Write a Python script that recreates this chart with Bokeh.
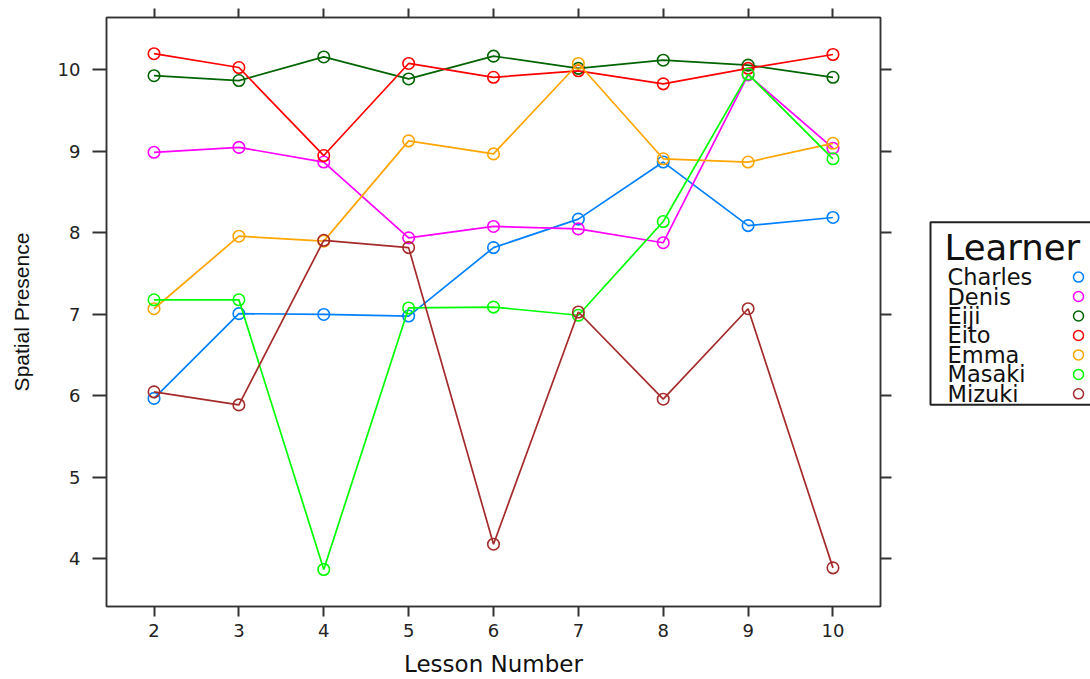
from bokeh.plotting import figure
from bokeh.models import Range1d, FixedTicker, LinearAxis, ColumnDataSource, CustomJSTickFormatter
from bokeh.layouts import row
from bokeh.embed import file_html
from bokeh.resources import INLINE
from bokeh.core.properties import value

# ---- data ----
lessons = [2, 3, 4, 5, 6, 7, 8, 9, 10]
learners = ["Charles", "Denis", "Eiji", "Eito", "Emma", "Masaki", "Mizuki"]
colors = ["#0080ff", "#ff00ff", "#006400", "#ff0000", "#ffa500", "#00ff00", "#a52a2a"]
charles = [5.97, 7.01, 7.00, 6.98, 7.82, 8.17, 8.87, 8.09, 8.19]
denis = [8.99, 9.05, 8.87, 7.94, 8.08, 8.05, 7.88, 9.94, 9.04]
eiji = [9.93, 9.87, 10.16, 9.89, 10.17, 10.02, 10.12, 10.06, 9.91]
eito = [10.20, 10.03, 8.95, 10.08, 9.91, 9.99, 9.83, 10.02, 10.19]
emma = [7.07, 7.96, 7.90, 9.13, 8.97, 10.08, 8.91, 8.87, 9.10]
masaki = [7.18, 7.18, 3.87, 7.08, 7.09, 6.99, 8.14, 9.95, 8.91]
mizuki = [6.05, 5.89, 7.91, 7.82, 4.18, 7.03, 5.96, 7.07, 3.89]
series = [charles, denis, eiji, eito, emma, masaki, mizuki]
x_ticks = [2, 3, 4, 5, 6, 7, 8, 9, 10]
y_ticks = [4, 5, 6, 7, 8, 9, 10]

AX = "#333333"
TICKFONT = "DejaVu Sans"

p = figure(width=896, height=679, output_backend="svg", toolbar_location=None,
           x_range=Range1d(1.44, 10.56), y_range=Range1d(3.416, 10.644),
           min_border_left=106, min_border_top=17, min_border_right=16, min_border_bottom=72,
           x_axis_location=None, y_axis_location=None)
p.grid.visible = False
p.outline_line_color = AX
p.outline_line_width = 1.5
p.background_fill_color = "white"
p.border_fill_color = "white"

def make_axis(ticks, tick_len, show_labels, label=None):
    ax = LinearAxis(ticker=FixedTicker(ticks=ticks))
    ax.major_tick_out = tick_len
    ax.major_tick_in = 0
    ax.minor_tick_out = 0
    ax.minor_tick_in = 0
    ax.major_tick_line_color = AX
    ax.major_tick_line_width = 2
    ax.axis_line_color = AX
    ax.axis_line_width = 1.5
    if show_labels:
        ax.major_label_text_font = TICKFONT
        ax.major_label_text_font_size = "18px"
        ax.major_label_text_color = "#222222"
    else:
        ax.formatter = CustomJSTickFormatter(code="return '';")
        ax.major_label_standoff = 0
    if label:
        ax.axis_label = label
    return ax

xb = make_axis(x_ticks, 10, True, "Lesson Number")
xb.major_label_standoff = 7
xb.axis_label_standoff = 11
xb.axis_label_text_font = "DejaVu Sans"
xb.axis_label_text_font_size = "23px"
xb.axis_label_text_font_style = "normal"
xb.axis_label_text_color = "#111111"
p.add_layout(xb, "below")

xt = make_axis(x_ticks, 9, False)
p.add_layout(xt, "above")

yl = make_axis(y_ticks, 14, True, "Spatial Presence")
yl.major_label_standoff = 12
yl.major_label_orientation = "horizontal"
yl.axis_label_standoff = 22
yl.axis_label_text_font = "Liberation Sans"
yl.axis_label_text_font_size = "21px"
yl.axis_label_text_font_style = "normal"
yl.axis_label_text_color = "#111111"
p.add_layout(yl, "left")

yr = make_axis(y_ticks, 11, False)
p.add_layout(yr, "right")

for name, vals, col in zip(learners, series, colors):
    src = ColumnDataSource(dict(x=lessons, y=vals))
    p.line("x", "y", source=src, line_color=col, line_width=1.7)
    p.scatter("x", "y", source=src, marker="circle", size=11.5,
              fill_color=None, line_color=col, line_width=1.6)

# ---- legend panel ----
# the row aligns this panel's frame with the main frame (page y 17..607),
# so the y range is given in page pixels over that span.
LW, LH = 194, 679
leg = figure(width=LW, height=LH, output_backend="svg", toolbar_location=None,
             title=None,
             x_range=Range1d(0, LW), y_range=Range1d(607, 17),
             min_border_left=0, min_border_right=0, min_border_top=17, min_border_bottom=72,
             x_axis_location=None, y_axis_location=None)
leg.grid.visible = False
leg.outline_line_color = None
leg.background_fill_color = "white"
leg.border_fill_color = "white"

leg.quad(left=[34], right=[230], top=[222], bottom=[405],
         fill_color="white", line_color="#222222", line_width=2)
leg.text(x=[48], y=[247], text=["Learner"], text_font=value("DejaVu Sans"),
         text_font_size="35.5px", text_baseline="middle", text_align="left",
         text_color="#111111")
n = len(learners)
item_y = [277 + 19.5 * i for i in range(n)]
leg.text(x=[51] * n, y=item_y, text=learners, text_font=value("DejaVu Sans"),
         text_font_size="22.5px", text_baseline="middle", text_align="left",
         text_color="#111111")
leg.scatter(x=[182] * n, y=item_y, marker="circle", size=10, fill_color=None,
            line_color=colors, line_width=1.5)

layout = row(p, leg)
open("out.html", "w").write(file_html(layout, INLINE))
